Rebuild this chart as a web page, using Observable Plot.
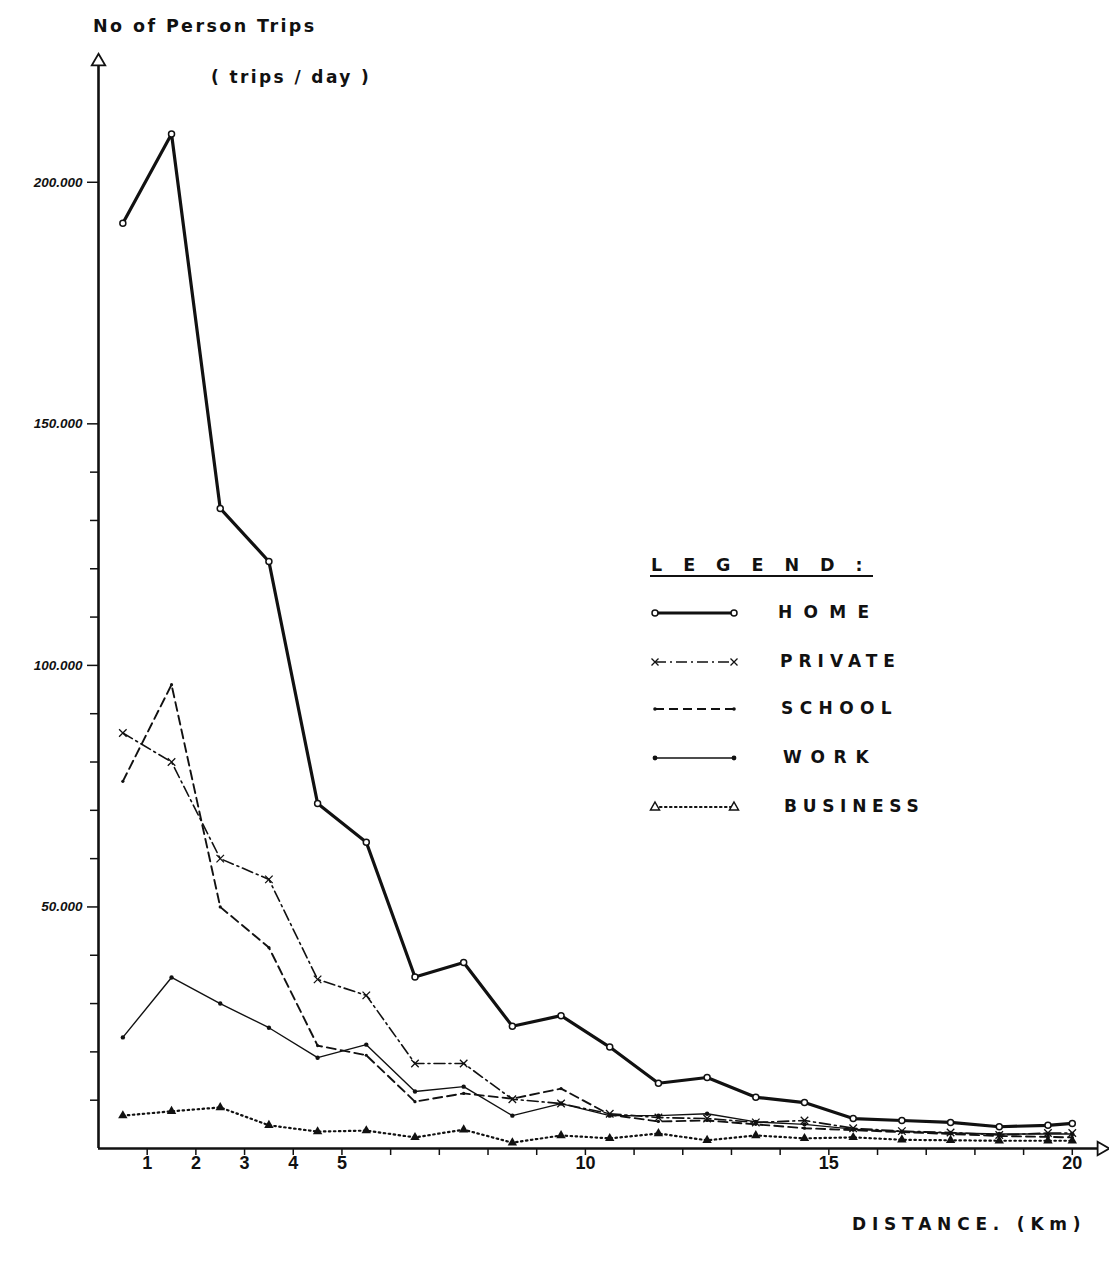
<!DOCTYPE html>
<html><head><meta charset="utf-8">
<script src="https://cdn.jsdelivr.net/npm/d3@7"></script>
<script src="https://cdn.jsdelivr.net/npm/@observablehq/plot@0.6"></script>
<style>
body{margin:0;background:#fff;}
#wrap{position:relative;width:1109px;height:1263px;}
#overlay{position:absolute;left:0;top:0;pointer-events:none;}
</style></head><body><div id="wrap"></div>
<script>
// ---- data (trips/day) ----
const distance = [0.5,1.5,2.5,3.5,4.5,5.5,6.5,7.5,8.5,9.5,10.5,11.5,12.5,13.5,14.5,15.5,16.5,17.5,18.5,19.5,20];
const home     = [191500,210000,132500,121500,71400,63400,35500,38500,25300,27500,21000,13500,14700,10600,9500,6200,5800,5400,4500,4800,5200];
const privateT = [86000,80000,60000,55700,35000,31700,17600,17600,10200,9300,7200,6400,6200,5400,5800,4200,3600,3300,2800,3200,3200];
const school   = [76000,96000,50000,41600,21300,19300,9700,11400,10300,12400,7000,5600,5800,5000,4200,3800,3400,3000,2600,2400,2300];
const work     = [23000,35400,30000,25000,18800,21500,11800,12800,6800,9300,6800,6800,7200,5500,5000,4000,3500,3200,3000,3000,3000];
const business = [6800,7700,8500,4800,3500,3700,2300,3900,1200,2700,2100,3100,1700,2700,2100,2300,1800,1700,1600,1600,1600];

const seriesNames = ["HOME","PRIVATE","SCHOOL","WORK","BUSINESS"];
const yTickValues = [50000,100000,150000,200000];
const yTickLabels = ["50.000","100.000","150.000","200.000"];
const yMinorTicks = [10000,20000,30000,40000,60000,70000,80000,90000,110000,120000,130000,140000];
const xTickValues = [1,2,3,4,5,6,7,8,9,10,11,12,13,14,15,16,17,18,19,20];
const xTickLabels = [1,2,3,4,5,10,15,20];
const xMax = 20.6, yMax = 225000;

const rows = vals => distance.map((d,i)=>({d, v: vals[i]}));
const ink = "#111";
const font = "'DejaVu Sans', sans-serif";
const narrow = "'Liberation Sans', Arial, sans-serif";

const chart = Plot.plot({
  width:1109, height:1263,
  marginLeft:98, marginRight:8, marginTop:61, marginBottom:115,
  x:{domain:[0,xMax], axis:null},
  y:{domain:[0,yMax], axis:null},
  style:{background:"white", fontFamily:font, color:ink},
  marks:[
    Plot.axisY({ticks:yMinorTicks, tickSize:8, tickFormat:()=>"", label:null, strokeWidth:1.5}),
    Plot.axisY({ticks:yTickValues, tickSize:11, tickPadding:5, label:null, strokeWidth:1.5,
      tickFormat:d=>yTickLabels[yTickValues.indexOf(d)],
      fontSize:13.5, fontWeight:"bold", fontStyle:"italic", fontFamily:narrow}),
    Plot.axisX({ticks:xTickValues, tickSize:7, tickPadding:1, label:null, strokeWidth:1.5,
      tickFormat:d=>xTickLabels.includes(d)?String(d):"",
      fontSize:18, fontWeight:"bold", fontFamily:narrow}),
    Plot.ruleX([0], {y1:0, y2:yMax, stroke:ink, strokeWidth:2.6}),
    Plot.ruleY([0], {x1:0, x2:xMax, stroke:ink, strokeWidth:2.6}),
    Plot.dot([[0,yMax]], {x:d=>d[0], y:d=>d[1], symbol:"triangle", r:5, fill:"white", stroke:ink, strokeWidth:1.8}),
    Plot.dot([[xMax,0]], {x:d=>d[0], y:d=>d[1], symbol:"triangle", rotate:90, r:5, fill:"white", stroke:ink, strokeWidth:1.8}),

    Plot.line(rows(business), {x:"d", y:"v", stroke:ink, strokeWidth:2.2, strokeDasharray:"1.5,3.5", strokeLinecap:"round"}),
    Plot.dot(rows(business), {x:"d", y:"v", symbol:"triangle", r:3.5, fill:ink}),
    Plot.line(rows(work), {x:"d", y:"v", stroke:ink, strokeWidth:1.4}),
    Plot.dot(rows(work), {x:"d", y:"v", r:2.2, fill:ink}),
    Plot.line(rows(school), {x:"d", y:"v", stroke:ink, strokeWidth:1.9, strokeDasharray:"9,5"}),
    Plot.dot(rows(school), {x:"d", y:"v", r:1.6, fill:ink}),
    Plot.line(rows(privateT), {x:"d", y:"v", stroke:ink, strokeWidth:1.6, strokeDasharray:"11,4,2,4"}),
    Plot.dot(rows(privateT), {x:"d", y:"v", symbol:"times", r:3.5, stroke:ink, strokeWidth:1.3}),
    Plot.line(rows(home), {x:"d", y:"v", stroke:ink, strokeWidth:3.2}),
    Plot.dot(rows(home), {x:"d", y:"v", r:3, fill:"white", stroke:ink, strokeWidth:1.5})
  ]
});
const wrap = document.getElementById("wrap");
wrap.appendChild(chart);

// ---- overlay: titles & legend ----
const svg = d3.select(wrap).append("svg").attr("id","overlay")
  .attr("width",1109).attr("height",1263)
  .style("font-family",font).style("font-weight","bold").attr("fill",ink);

function txt(x,y,s,size,ls){
  svg.append("text").attr("x",x).attr("y",y).attr("dominant-baseline","central")
    .attr("font-size",size).attr("letter-spacing",ls).text(s);
}
txt(93,26,"No of Person Trips",17.5,2.4);
txt(211,77,"( trips / day )",17,2.4);
txt(852,1224,"DISTANCE. (Km)",17,5.8);

// legend
txt(651,565,"LEGEND:",17.5,21);
svg.append("line").attr("x1",650).attr("x2",873).attr("y1",576).attr("y2",576).attr("stroke",ink).attr("stroke-width",2);

const legY = [613,662,709,758,807];
const legX = [778,780,781,783,784];
const legLS = [11.3,6,6.4,8.7,5.7];
seriesNames.forEach((n,i)=>txt(legX[i],legY[i]-1,n,17,legLS[i]));

const lx1=655, lx2=734;
function seg(y,w,dash){
  svg.append("line").attr("x1",lx1).attr("x2",lx2).attr("y1",y).attr("y2",y)
    .attr("stroke",ink).attr("stroke-width",w).attr("stroke-dasharray",dash||null);
}
// HOME
seg(legY[0],3,null);
[lx1,lx2].forEach(x=>svg.append("circle").attr("cx",x).attr("cy",legY[0]).attr("r",3).attr("fill","white").attr("stroke",ink).attr("stroke-width",1.5));
// PRIVATE
seg(legY[1],1.6,"11,4,2,4");
[lx1,lx2].forEach(x=>svg.append("path").attr("d",`M${x-3.5},${legY[1]-3.5}L${x+3.5},${legY[1]+3.5}M${x-3.5},${legY[1]+3.5}L${x+3.5},${legY[1]-3.5}`).attr("stroke",ink).attr("stroke-width",1.3));
// SCHOOL
seg(legY[2],1.9,"9,5");
[lx1,lx2].forEach(x=>svg.append("circle").attr("cx",x).attr("cy",legY[2]).attr("r",1.8).attr("fill",ink));
// WORK
seg(legY[3],1.4,null);
[lx1,lx2].forEach(x=>svg.append("circle").attr("cx",x).attr("cy",legY[3]).attr("r",2.4).attr("fill",ink));
// BUSINESS
svg.append("line").attr("x1",lx1).attr("x2",lx2).attr("y1",legY[4]).attr("y2",legY[4])
  .attr("stroke",ink).attr("stroke-width",2.2).attr("stroke-dasharray","1.5,3.5").attr("stroke-linecap","round");
[lx1,lx2].forEach(x=>svg.append("path").attr("d",`M${x},${legY[4]-5}L${x+4.5},${legY[4]+3}L${x-4.5},${legY[4]+3}Z`).attr("fill","white").attr("stroke",ink).attr("stroke-width",1.5));
</script>
</body></html>
